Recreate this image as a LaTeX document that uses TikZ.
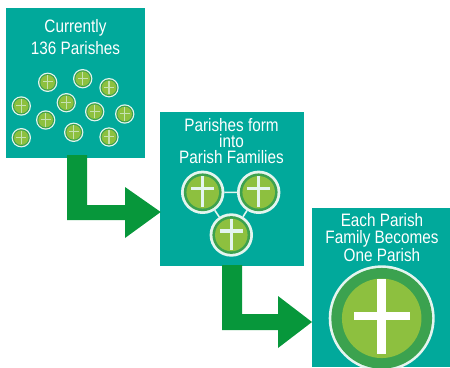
\documentclass[tikz,border=0pt]{standalone}
\usepackage{fontspec}
\newfontfamily\lab[FakeStretch=0.85]{Liberation Sans}
\definecolor{panelteal}{HTML}{01A99B}
\definecolor{arrowgreen}{HTML}{07973B}
\definecolor{ringgreen}{HTML}{3BA24F}
\definecolor{discgreen}{HTML}{8DC03F}
\definecolor{ringpale}{HTML}{E4F5EF}
\tikzset{
  panelbox/.style={fill=panelteal,draw=none,inner sep=0pt,outer sep=0pt,rectangle},
  paneltext/.style={text=white,align=center,inner sep=0pt,anchor=base},
  flowarrow/.style={fill=arrowgreen,draw=none},
  linkline/.style={draw=ringpale,line width=1.6pt},
}
% name, x, y, radius, ring inner fraction, bar offset fraction, cross half-width fraction, cross colour
\newcommand{\parish}[8]{%
  \node[circle,fill=ringpale,draw=none,minimum size=#4*2pt,inner sep=0pt,outer sep=0pt] (#1) at (#2,#3) {};
  \fill[ringgreen] (#2,#3) circle[radius=#4*#5];
  \fill[discgreen] (#2,#3) circle[radius=#4*0.75];
  \fill[#8] (#2-#4*#7,#3-#4*0.74) rectangle (#2+#4*#7,#3+#4*0.68);
  \fill[#8] (#2-#4*0.53,#3+#4*#6-#4*#7) rectangle (#2+#4*0.53,#3+#4*#6+#4*#7);
}
\newcommand{\smallparish}[3]{\parish{#1}{#2}{#3}{9.7}{0.87}{-0.05}{0.065}{ringpale!65!discgreen}}
\newcommand{\midparish}[3]{\parish{#1}{#2}{#3}{21.7}{0.87}{-0.18}{0.075}{ringpale}}
\begin{document}
\begin{tikzpicture}[x=1pt,y=-1pt]
\useasboundingbox (0,0) rectangle (450,367);
\node[panelbox,minimum width=139pt,minimum height=150pt] (p1) at (75.5,83) {};
\node[panelbox,minimum width=144pt,minimum height=154pt] (p2) at (232,189) {};
\node[panelbox,minimum width=138pt,minimum height=159pt] (p3) at (381,287.5) {};

\fill[flowarrow] (67,155)--(87,155)--(87,205)--(125,205)--(125,187)--(160.7,212)--(125,238)--(125,220)--(67,220)--cycle;
\fill[flowarrow] (222,265)--(242,265)--(242,314)--(278,314)--(278,296)--(312,322)--(278,348)--(278,330)--(222,330)--cycle;

\node[paneltext,font=\lab\fontsize{18}{22}\selectfont] (t1) at (75.5,54.5) {Currently\\136 Parishes};
\node[paneltext,font=\lab\fontsize{18}{15.8}\selectfont] (t2) at (231.5,163) {Parishes form\\into\\Parish Families};
\node[paneltext,font=\lab\fontsize{18}{16.4}\selectfont] (t3) at (382,261) {Each Parish\\Family Becomes\\One Parish};

\smallparish{a1}{47.7}{82.3}
\smallparish{a2}{82.7}{78.7}
\smallparish{a3}{109}{87.7}
\smallparish{a4}{21.3}{106}
\smallparish{a5}{66.3}{102.7}
\smallparish{a6}{94.7}{111.7}
\smallparish{a7}{124.7}{114}
\smallparish{a8}{45.7}{120}
\smallparish{a9}{73.7}{132.3}
\smallparish{a10}{109}{137}
\smallparish{a11}{21.3}{137.7}

\midparish{b1}{202.7}{192.3}
\midparish{b2}{258.7}{192.3}
\midparish{b3}{231.3}{235}
\draw[linkline] (b1)--(b2) (b2)--(b3) (b3)--(b1);

\parish{c1}{381.7}{318.3}{53}{0.95}{-0.04}{0.08}{white}
\end{tikzpicture}
\end{document}
